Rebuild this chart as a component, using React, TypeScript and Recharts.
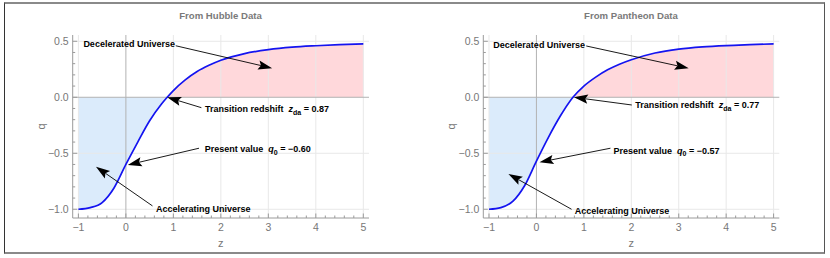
import React from "react";
import {
  ComposedChart,
  Line,
  Area,
  XAxis,
  YAxis,
  ReferenceLine,
  ReferenceDot,
} from "recharts";

// values
const hubbleZ = [-1, -0.75, -0.5, -0.25, 0, 0.25, 0.5, 0.75, 0.87, 1, 1.25, 1.5, 1.75, 2, 2.5, 3, 3.5, 4, 4.5, 5];
const hubbleQ = [-1, -0.985, -0.94, -0.81, -0.6, -0.4, -0.21, -0.06, 0, 0.06, 0.155, 0.23, 0.285, 0.33, 0.39, 0.425, 0.447, 0.46, 0.47, 0.477];
const hubbleTransition = 0.87;

const pantheonZ = [-1, -0.75, -0.5, -0.25, 0, 0.25, 0.5, 0.77, 1, 1.25, 1.5, 1.75, 2, 2.5, 3, 3.5, 4, 4.5, 5];
const pantheonQ = [-1, -0.985, -0.93, -0.79, -0.57, -0.36, -0.17, 0, 0.1, 0.18, 0.245, 0.295, 0.335, 0.395, 0.43, 0.45, 0.462, 0.47, 0.477];
const pantheonTransition = 0.77;

const xMajorTicks = [-1, 0, 1, 2, 3, 4, 5];
const xAllTicks = [
  -1, -0.8, -0.6, -0.4, -0.2, 0, 0.2, 0.4, 0.6, 0.8, 1, 1.2, 1.4, 1.6, 1.8, 2,
  2.2, 2.4, 2.6, 2.8, 3, 3.2, 3.4, 3.6, 3.8, 4, 4.2, 4.4, 4.6, 4.8, 5,
];
const yMajorTicks = [-1, -0.5, 0, 0.5];
const yAllTicks = [-1, -0.9, -0.8, -0.7, -0.6, -0.5, -0.4, -0.3, -0.2, -0.1, 0, 0.1, 0.2, 0.3, 0.4, 0.5];
const xGridLines = [-1, 1, 2, 3, 4, 5];
const yGridLines = [-1, -0.5, 0.5];

const xDomain = [-1.12, 5.12];
const yDomain = [-1.078, 0.556];

type Part = { text: string; italic?: boolean; sub?: boolean };
type Note = { tail: [number, number]; tip: [number, number]; at: [number, number]; parts: Part[] };

const hubbleNotes: Note[] = [
  { tail: [1.05, 0.46], tip: [3.08, 0.26], at: [-0.895, 0.473], parts: [{ text: "Decelerated Universe" }] },
  {
    tail: [1.59, -0.093], tip: [0.87, 0], at: [1.667, -0.104],
    parts: [{ text: "Transition redshift" }, { text: "z", italic: true }, { text: "da", sub: true }, { text: " = 0.87" }],
  },
  {
    tail: [1.54, -0.455], tip: [0.04, -0.604], at: [1.661, -0.462],
    parts: [{ text: "Present value" }, { text: "q", italic: true }, { text: "0", sub: true }, { text: " = \u22120.60" }],
  },
  { tail: [0.56, -0.97], tip: [-0.63, -0.62], at: [0.636, -1.0], parts: [{ text: "Accelerating Universe" }] },
];

const pantheonNotes: Note[] = [
  { tail: [1.05, 0.458], tip: [3.21, 0.259], at: [-0.908, 0.467], parts: [{ text: "Decelerated Universe" }] },
  {
    tail: [2.01, -0.069], tip: [0.79, 0], at: [2.082, -0.069],
    parts: [{ text: "Transition redshift" }, { text: "z", italic: true }, { text: "da", sub: true }, { text: " = 0.77" }],
  },
  {
    tail: [1.56, -0.455], tip: [0.065, -0.58], at: [1.626, -0.477],
    parts: [{ text: "Present value" }, { text: "q", italic: true }, { text: "0", sub: true }, { text: " = \u22120.57" }],
  },
  { tail: [0.74, -1.0], tip: [-0.59, -0.685], at: [0.807, -1.012], parts: [{ text: "Accelerating Universe" }] },
];

const FONT = "'Liberation Sans', Arial, sans-serif";
const frameColor = "#9a9a9a";
const tickTextColor = "#777";

const fmtX = (v: number) => (v < 0 ? "\u2212" + Math.abs(v) : String(v));
const fmtY = (v: number) => (v < 0 ? "\u2212" + Math.abs(v).toFixed(1) : v.toFixed(1));

const BottomTick = ({ x, y, payload }: any) => {
  const major = xMajorTicks.includes(payload.value);
  return (
    <g>
      <line x1={x} y1={y} x2={x} y2={y - (major ? 4.5 : 2.5)} stroke={frameColor} />
      {major && (
        <text x={x} y={y + 12.5} textAnchor="middle" fontSize={10.5} fontFamily={FONT} fill={tickTextColor}>
          {fmtX(payload.value)}
        </text>
      )}
    </g>
  );
};

const TopTick = ({ x, y, payload }: any) => {
  const major = xMajorTicks.includes(payload.value);
  return <line x1={x} y1={y} x2={x} y2={y + (major ? 4.5 : 2.5)} stroke={frameColor} />;
};

const LeftTick = ({ x, y, payload }: any) => {
  const major = yMajorTicks.includes(payload.value);
  return (
    <g>
      <line x1={x} y1={y} x2={x + (major ? 4.5 : 2.5)} y2={y} stroke={frameColor} />
      {major && (
        <text x={x - 4} y={y} dy="0.35em" textAnchor="end" fontSize={10.5} fontFamily={FONT} fill={tickTextColor}>
          {fmtY(payload.value)}
        </text>
      )}
    </g>
  );
};

const RightTick = ({ x, y, payload }: any) => {
  const major = yMajorTicks.includes(payload.value);
  return <line x1={x} y1={y} x2={x - (major ? 4.5 : 2.5)} y2={y} stroke={frameColor} />;
};

const Arrow = (p: any) => {
  const { x1, y1, x2, y2 } = p;
  const len = Math.hypot(x2 - x1, y2 - y1) || 1;
  const ux = (x2 - x1) / len;
  const uy = (y2 - y1) / len;
  const L = 14;
  const W = 4.6;
  const bx = x2 - ux * L;
  const by = y2 - uy * L;
  const nx = -uy;
  const ny = ux;
  const notchX = x2 - ux * L * 0.82;
  const notchY = y2 - uy * L * 0.82;
  return (
    <g>
      <line x1={x1} y1={y1} x2={notchX} y2={notchY} stroke="#000" strokeWidth={0.9} />
      <polygon
        points={`${x2},${y2} ${bx + nx * W},${by + ny * W} ${notchX},${notchY} ${bx - nx * W},${by - ny * W}`}
        fill="#000"
      />
    </g>
  );
};

const noteLabel = (parts: Part[]) => (p: any) => {
  const out: React.ReactNode[] = [];
  let lowered = false;
  parts.forEach((part, i) => {
    let dy = 0;
    if (part.sub && !lowered) {
      dy = 2.6;
      lowered = true;
    } else if (!part.sub && lowered) {
      dy = -2.6;
      lowered = false;
    }
    out.push(
      <tspan
        key={i}
        dy={dy || undefined}
        dx={part.italic ? 5 : undefined}
        fontStyle={part.italic ? "italic" : undefined}
        fontSize={part.sub ? 7 : undefined}
      >
        {part.text}
      </tspan>
    );
  });
  return (
    <text x={p.cx} y={p.cy} dy="0.35em" fontSize={9} fontWeight="bold" fontFamily={FONT} fill="#000">
      {out}
    </text>
  );
};

interface PanelProps {
  zs: number[];
  qs: number[];
  transition: number;
  notes: Note[];
  frameLeft: number;
  frameRight: number;
}

const W = 415;
const H = 258;
const FRAME_TOP = 35;
const FRAME_BOTTOM = 218;

const Panel: React.FC<PanelProps> = ({ zs, qs, transition, notes, frameLeft, frameRight }) => {
  const rows = zs.map((z, i) => ({
    z,
    q: qs[i],
    acc: z <= transition ? [qs[i], 0] : null,
    dec: z >= transition ? [0, qs[i]] : null,
  }));

  return (
    <ComposedChart
      width={W}
      height={H}
      data={rows}
      margin={{ top: FRAME_TOP, right: W - frameRight, bottom: H - FRAME_BOTTOM - 30, left: frameLeft - 30 }}
    >
      <XAxis
        dataKey="z"
        type="number"
        domain={xDomain}
        allowDataOverflow
        ticks={xAllTicks}
        interval={0}
        tickSize={0}
        tickMargin={0}
        tick={<BottomTick />}
        axisLine={{ stroke: frameColor }}
        height={30}
        label={{
          content: ({ viewBox }: any) => (
            <text
              x={viewBox.x + viewBox.width / 2}
              y={viewBox.y + 25.3}
              dy="0.35em"
              textAnchor="middle"
              fontSize={11}
              fontFamily={FONT}
              fill={tickTextColor}
            >
              z
            </text>
          ),
        }}
      />
      <XAxis
        xAxisId="top"
        orientation="top"
        dataKey="z"
        type="number"
        domain={xDomain}
        allowDataOverflow
        ticks={xAllTicks}
        interval={0}
        tickSize={0}
        tickMargin={0}
        tick={<TopTick />}
        axisLine={{ stroke: frameColor }}
        height={0}
      />
      <YAxis
        type="number"
        domain={yDomain}
        allowDataOverflow
        ticks={yAllTicks}
        interval={0}
        tickSize={0}
        tickMargin={0}
        tick={<LeftTick />}
        axisLine={{ stroke: frameColor }}
        width={30}
        label={{
          content: ({ viewBox }: any) => {
            const cx = viewBox.x + viewBox.width - 32;
            const cy = viewBox.y + viewBox.height / 2;
            return (
              <text
                x={cx}
                y={cy}
                dy="0.35em"
                textAnchor="middle"
                transform={`rotate(-90 ${cx} ${cy})`}
                fontSize={11}
                fontFamily={FONT}
                fill={tickTextColor}
              >
                q
              </text>
            );
          },
        }}
      />
      <YAxis
        yAxisId="right"
        orientation="right"
        type="number"
        domain={yDomain}
        allowDataOverflow
        ticks={yAllTicks}
        interval={0}
        tickSize={0}
        tickMargin={0}
        tick={<RightTick />}
        axisLine={{ stroke: frameColor }}
        width={0}
      />

      {xGridLines.map((v) => (
        <ReferenceLine key={`gx${v}`} x={v} stroke="#e8e8e8" strokeWidth={1} />
      ))}
      {yGridLines.map((v) => (
        <ReferenceLine key={`gy${v}`} y={v} stroke="#e8e8e8" strokeWidth={1} />
      ))}
      <ReferenceLine x={0} stroke="#b3b3b3" strokeWidth={1} />
      <ReferenceLine y={0} stroke="#b3b3b3" strokeWidth={1} />

      <Area
        dataKey="acc"
        type="monotone"
        stroke="none"
        fill="rgb(110,175,240)"
        fillOpacity={0.25}
        isAnimationActive={false}
        activeDot={false}
      />
      <Area
        dataKey="dec"
        type="monotone"
        stroke="none"
        fill="rgb(255,100,110)"
        fillOpacity={0.25}
        isAnimationActive={false}
        activeDot={false}
      />
      <Line
        dataKey="q"
        type="monotone"
        stroke="#1414f0"
        strokeWidth={1.7}
        dot={false}
        activeDot={false}
        isAnimationActive={false}
      />

      {notes.map((n, i) => (
        <ReferenceLine
          key={`a${i}`}
          segment={[
            { x: n.tail[0], y: n.tail[1] },
            { x: n.tip[0], y: n.tip[1] },
          ]}
          shape={Arrow}
        />
      ))}
      {notes.map((n, i) => (
        <ReferenceDot key={`t${i}`} x={n.at[0]} y={n.at[1]} r={1} shape={noteLabel(n.parts)} />
      ))}
    </ComposedChart>
  );
};

const titleStyle = (center: number): React.CSSProperties => ({
  position: "absolute",
  left: center - 100,
  width: 200,
  top: 9.5,
  textAlign: "center",
  fontFamily: FONT,
  fontSize: 9.6,
  lineHeight: "11px",
  fontWeight: "bold",
  color: "#7a7a7a",
});

export default function App() {
  return (
    <div style={{ position: "absolute", left: 0, top: 0, width: 830, height: 258, background: "#fff" }}>
      <div
        style={{
          position: "absolute",
          left: 4,
          top: 2,
          width: 821,
          height: 252,
          boxSizing: "border-box",
          borderTop: "2px solid #8a8a8a",
          borderBottom: "2px solid #8a8a8a",
          borderLeft: "1px solid #333",
          borderRight: "1px solid #555",
        }}
      />
      <div style={{ position: "absolute", left: 0, top: 0 }}>
        <Panel
          zs={hubbleZ}
          qs={hubbleQ}
          transition={hubbleTransition}
          notes={hubbleNotes}
          frameLeft={72.7}
          frameRight={369}
        />
      </div>
      <div style={{ position: "absolute", left: 415, top: 0 }}>
        <Panel
          zs={pantheonZ}
          qs={pantheonQ}
          transition={pantheonTransition}
          notes={pantheonNotes}
          frameLeft={68.3}
          frameRight={364.3}
        />
      </div>
      <div style={titleStyle(220.5)}>From Hubble Data</div>
      <div style={titleStyle(631)}>From Pantheon Data</div>
    </div>
  );
}
